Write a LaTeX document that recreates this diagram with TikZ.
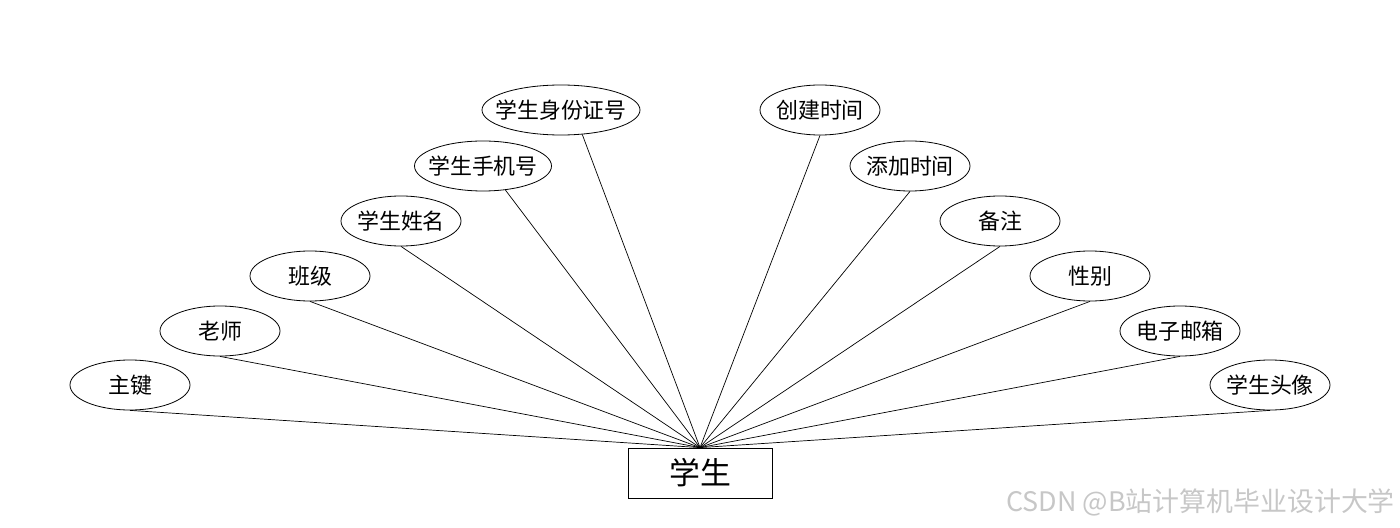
\documentclass[tikz,border=0pt]{standalone}
\usepackage{fontspec}
\setmainfont{Noto Sans CJK SC}
\usetikzlibrary{shapes.geometric}
\begin{document}
\begin{tikzpicture}[x=1bp,y=-1bp,
  attr/.style={draw,ellipse,line width=0.8bp,minimum width=120bp,minimum height=50bp,inner sep=0pt},
  lbl/.style={inner sep=0pt,font=\fontsize{22}{26}\selectfont},
  ent/.style={draw,rectangle,line width=0.8bp,minimum width=144bp,minimum height=50bp,inner sep=0pt,font=\fontsize{31}{36}\selectfont},
  conn/.style={line width=0.7bp}]
\useasboundingbox (0,0) rectangle (1400,528);
\node[ent] (s) at (700,473) {学生};
\node[attr] (a1) at (130,385) {};
\node[attr] (a2) at (220,331) {};
\node[attr] (a3) at (310,276) {};
\node[attr] (a4) at (401,221) {};
\node[attr,minimum width=137bp] (a5) at (483,166) {};
\node[attr,minimum width=158bp] (a6) at (561,110) {};
\node[attr] (b1) at (820,110) {};
\node[attr] (b2) at (910,166) {};
\node[attr] (b3) at (1000,221) {};
\node[attr] (b4) at (1090,276) {};
\node[attr] (b5) at (1180,331) {};
\node[attr] (b6) at (1270,385) {};
\node[lbl] (t1) at (a1) {主键};
\node[lbl] (t2) at (a2) {老师};
\node[lbl] (t3) at (a3) {班级};
\node[lbl] (t4) at (a4) {学生姓名};
\node[lbl] (t5) at (a5) {学生手机号};
\node[lbl] (t6) at (a6) {学生身份证号};
\node[lbl] (u1) at (b1) {创建时间};
\node[lbl] (u2) at (b2) {添加时间};
\node[lbl] (u3) at (b3) {备注};
\node[lbl] (u4) at (b4) {性别};
\node[lbl] (u5) at (b5) {电子邮箱};
\node[lbl] (u6) at (b6) {学生头像};
\foreach \n in {a1,a2,a3,a4,b1,b2,b3,b4,b5,b6}{\draw[conn] (\n.south) -- (s.north);}
\draw[conn] (a5.-47) -- (s.north);
\draw[conn] (a6.-49) -- (s.north);
\node[anchor=east,text=black!22,font=\fontsize{27}{30}\selectfont,inner sep=0pt] (wm) at (1395,502) {CSDN @B站计算机毕业设计大学};
\end{tikzpicture}
\end{document}
